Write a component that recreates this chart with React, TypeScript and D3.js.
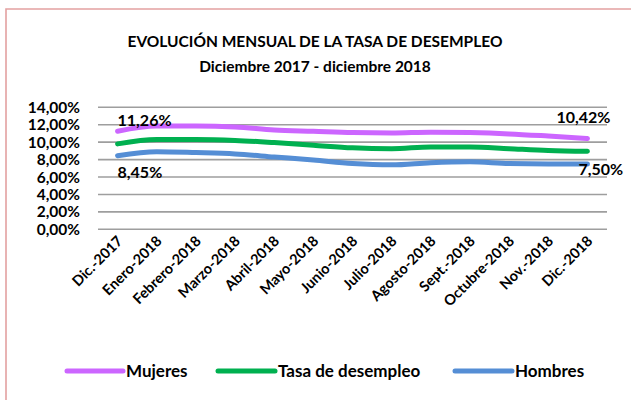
import React from 'react';
import * as d3 from 'd3';

const months = [
  'Dic.-2017', 'Enero-2018', 'Febrero-2018', 'Marzo-2018', 'Abril-2018', 'Mayo-2018',
  'Junio-2018', 'Julio-2018', 'Agosto-2018', 'Sept.-2018', 'Octubre-2018', 'Nov.-2018', 'Dic.-2018',
];
const mujeres = [11.26, 11.85, 11.85, 11.75, 11.4, 11.25, 11.1, 11.05, 11.15, 11.1, 10.95, 10.7, 10.42];
const tasa = [9.8, 10.3, 10.3, 10.2, 9.95, 9.65, 9.35, 9.25, 9.45, 9.45, 9.25, 9.05, 8.95];
const hombres = [8.45, 8.9, 8.8, 8.65, 8.3, 7.95, 7.55, 7.4, 7.65, 7.75, 7.55, 7.5, 7.5];
const yTicks = [0, 2, 4, 6, 8, 10, 12, 14];

const series = [
  { name: 'Mujeres', values: mujeres, color: '#CC66FF' },
  { name: 'Tasa de desempleo', values: tasa, color: '#00B050' },
  { name: 'Hombres', values: hombres, color: '#558ED5' },
];

const fmt = (v: number) => v.toFixed(2).replace('.', ',') + '%';

export default function App() {
  const width = 631;
  const height = 400;
  const left = 98, right = 607, top = 107.3, bottom = 229.3;

  const x = d3.scaleBand<string>().domain(months).range([left, right]);
  const y = d3.scaleLinear().domain([0, 14]).range([bottom, top]);
  const cx = (m: string) => (x(m) as number) + x.bandwidth() / 2;

  const line = d3.line<number>()
    .x((_, i) => cx(months[i]))
    .y(d => y(d))
    .curve(d3.curveMonotoneX);

  const font = 'Lato, "DejaVu Sans", sans-serif';
  const last = months.length - 1;

  // legend swatch positions
  const legendPos = [
    { x1: 67, x2: 123 },
    { x1: 218, x2: 275 },
    { x1: 455, x2: 512 },
  ];

  return (
    <svg width={width} height={height} style={{ position: 'fixed', left: 0, top: 0 }}
      fontFamily={font} fontWeight="bold">
      <rect x={0} y={0} width={width} height={height} fill="#fff" />
      <path d={`M6,${height + 5}V9H${width + 5}`} fill="none" stroke="#E3A1A1" strokeWidth={1.6} />

      <text x={315} y={47} textAnchor="middle" fontSize={15.5} fill="#000">
        EVOLUCIÓN MENSUAL DE LA TASA DE DESEMPLEO
      </text>
      <text x={315} y={72} textAnchor="middle" fontSize={15.5} fill="#000">
        Diciembre 2017 - diciembre 2018
      </text>

      {yTicks.map(t => (
        <g key={t}>
          <line x1={left} x2={right} y1={y(t)} y2={y(t)} stroke="#9E9E9E" strokeWidth={1.6} />
          <text x={80} y={y(t)} dy="0.36em" textAnchor="end" fontSize={15.5} fill="#000">
            {fmt(t)}
          </text>
        </g>
      ))}

      {months.map(m => (
        <text key={m} transform={`translate(${cx(m) + 6},${242}) rotate(-45)`} textAnchor="end"
          fontSize={14.5} fill="#000">
          {m}
        </text>
      ))}

      {series.map(s => (
        <path key={s.name} d={line(s.values) || ''} fill="none" stroke={s.color}
          strokeWidth={5} strokeLinecap="round" strokeLinejoin="round" />
      ))}

      <text x={cx(months[0])} y={y(mujeres[0]) - 5} fontSize={16} fill="#000">{fmt(mujeres[0])}</text>
      <text x={cx(months[0])} y={y(hombres[0]) + 22} fontSize={16} fill="#000">{fmt(hombres[0])}</text>
      <text x={cx(months[last]) - 31} y={y(mujeres[last]) - 15} fontSize={16} fill="#000">{fmt(mujeres[last])}</text>
      <text x={cx(months[last]) - 9} y={y(hombres[last]) + 11} fontSize={16} fill="#000">{fmt(hombres[last])}</text>

      {series.map((s, i) => (
        <g key={s.name}>
          <line x1={legendPos[i].x1} x2={legendPos[i].x2} y1={371} y2={371} stroke={s.color}
            strokeWidth={5} strokeLinecap="round" />
          <text x={legendPos[i].x2 + 3} y={371} dy="0.36em" fontSize={17} fill="#000">{s.name}</text>
        </g>
      ))}
    </svg>
  );
}
